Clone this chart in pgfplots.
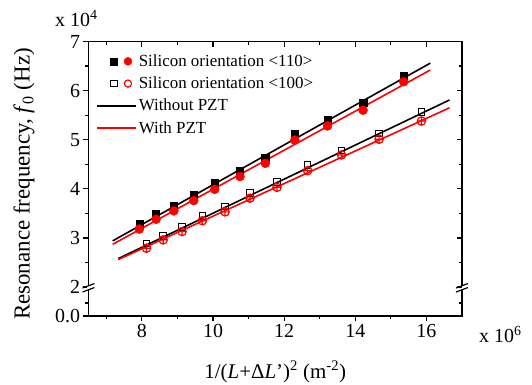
\documentclass[border=0pt]{standalone}
\usepackage{pgfplots}
\pgfplotsset{compat=1.18}
\usepackage{fontspec}
\setmainfont{Liberation Serif}
\begin{document}
\begin{tikzpicture}
\pgfplotsset{
  common/.style={
    scale only axis, width=373.5bp, height=274.5bp,
    xmin=6.5, xmax=17, ymin=1.41, ymax=7,
    xtick={8,10,12,14,16}, minor xtick={7,9,11,13,15},
    ytick={2,3,4,5,6,7}, minor ytick={1.674,2.5,3.5,4.5,5.5,6.5},
    major tick length=5bp, minor tick length=3bp,
    tick style={line width=1.2bp, black},
    /pgf/number format/assume math mode=true,
    ticklabel style={font=\fontsize{20}{22}\selectfont},
    clip=false,
  }
}
\begin{axis}[common, name=main,
  axis line style={line width=1.4bp},
  xtick pos=bottom, ytick pos=left, tick align=outside,
  extra y ticks={1.41}, extra y tick labels={0.0},
  extra y tick style={tick align=outside},
  xlabel={1/(\textit{L}+Δ\textit{L}')\textsuperscript{2} (m\textsuperscript{-2})},
  ylabel={Resonance frequency, \textit{f}\textsubscript{0} (Hz)},
  xlabel style={font=\fontsize{21}{24}\selectfont, at={(axis description cs:0.5,-0.204)}, anchor=center},
  ylabel style={font=\fontsize{23}{25}\selectfont, at={(axis description cs:-0.1727,0.481)}, anchor=center},
  legend style={at={(axis description cs:0.02,0.958)}, anchor=north west, draw=none, fill=none,
    inner sep=0pt, row sep=6bp, font=\fontsize{17}{19}\selectfont,
    nodes={inner ysep=1.5bp, inner xsep=2bp}},
  legend cell align=left,
]
% <110> without PZT
\addplot[only marks, mark=square*, mark size=3.6bp, black, forget plot] coordinates {
(7.93,3.28) (8.40,3.49) (8.90,3.66) (9.46,3.88) (10.05,4.12) (10.76,4.37)
(11.47,4.63) (12.30,5.12) (13.22,5.40) (14.22,5.76) (15.36,6.30)};
% <110> with PZT
\addplot[only marks, mark=*, mark size=4.5bp, red, forget plot] coordinates {
(7.93,3.18) (8.40,3.38) (8.90,3.55) (9.46,3.76) (10.05,3.99) (10.76,4.25)
(11.47,4.52) (12.30,4.99) (13.22,5.28) (14.22,5.60) (15.36,6.18)};
% <100> without PZT
\addplot[only marks, mark=square, mark size=3.3bp, black, mark options={line width=1bp}, forget plot] coordinates {
(8.13,2.89) (8.60,3.04) (9.13,3.22) (9.70,3.45) (10.34,3.64) (11.04,3.92)
(11.80,4.14) (12.66,4.49) (13.61,4.78) (14.67,5.13) (15.86,5.56)};
% <100> with PZT
\addplot[only marks, mark=oplus, mark size=4.2bp, red, mark options={line width=1.2bp}, forget plot] coordinates {
(8.13,2.79) (8.60,2.96) (9.13,3.13) (9.70,3.35) (10.34,3.53) (11.04,3.81)
(11.80,4.03) (12.66,4.37) (13.61,4.69) (14.67,5.01) (15.86,5.38)};
% fit lines
\addplot[black, line width=1.6bp, forget plot] coordinates {(7.18,2.94) (16.11,6.56)};
\addplot[red, line width=1.6bp, forget plot] coordinates {(7.18,2.87) (16.11,6.42)};
\addplot[black, line width=1.6bp, forget plot] coordinates {(7.34,2.58) (16.65,5.81)};
\addplot[red, line width=1.6bp, forget plot] coordinates {(7.34,2.56) (16.65,5.65)};
% legend
\addlegendimage{legend image code/.code={
  \path[draw=none, fill=none] (0bp,0bp) -- (39bp,0bp);
  \path[draw=black, fill=black] plot[mark=square*, mark size=3.6bp] coordinates {(17bp,0bp)};
  \path[draw=red, fill=red] plot[mark=*, mark size=4bp] coordinates {(31bp,0bp)};
}}
\addlegendentry{Silicon orientation <110>}
\addlegendimage{legend image code/.code={
  \path[draw=none, fill=none] (0bp,0bp) -- (39bp,0bp);
  \path[draw=black, fill=none, line width=1bp] plot[mark=square, mark size=3.3bp] coordinates {(17bp,0bp)};
  \path[draw=red, fill=none, line width=1.2bp] plot[mark=o, mark size=3.6bp] coordinates {(31bp,0bp)};
}}
\addlegendentry{Silicon orientation <100>}
\addlegendimage{legend image code/.code={\draw[black, line width=1.6bp] (0bp,0bp) -- (39bp,0bp);}}
\addlegendentry{Without PZT}
\addlegendimage{legend image code/.code={\draw[red, line width=1.6bp] (0bp,0bp) -- (39bp,0bp);}}
\addlegendentry{With PZT}
% axis break marks
\fill[white] ([shift={(-1.6bp,-2.4bp)}]axis cs:6.5,2) rectangle ([shift={(1.6bp,0.9bp)}]axis cs:6.5,2);
\draw[line width=1.2bp] ([shift={(-6bp,-1bp)}]axis cs:6.5,2) -- ([shift={(6bp,3.5bp)}]axis cs:6.5,2);
\draw[line width=1.2bp] ([shift={(-6bp,-5bp)}]axis cs:6.5,2) -- ([shift={(6bp,-0.5bp)}]axis cs:6.5,2);
\fill[white] ([shift={(-1.6bp,-2.4bp)}]axis cs:17,2) rectangle ([shift={(1.6bp,0.9bp)}]axis cs:17,2);
\draw[line width=1.2bp] ([shift={(-6bp,-1bp)}]axis cs:17,2) -- ([shift={(6bp,3.5bp)}]axis cs:17,2);
\draw[line width=1.2bp] ([shift={(-6bp,-5bp)}]axis cs:17,2) -- ([shift={(6bp,-0.5bp)}]axis cs:17,2);
% multipliers
\node[anchor=base west, font=\fontsize{20}{22}\selectfont, inner sep=0pt] at (axis description cs:-0.0897,1.054) {x 10\textsuperscript{4}};
\node[anchor=base west, font=\fontsize{20}{22}\selectfont, inner sep=0pt] at (axis description cs:1.0455,-0.098) {x 10\textsuperscript{6}};
\end{axis}
\begin{axis}[common,
  axis line style={draw=none},
  xtick pos=top, ytick pos=right, tick align=inside,
  xticklabels={}, yticklabels={},
]
\end{axis}
\pgfresetboundingbox
\path[use as bounding box] ([shift={(-88.5bp,-69bp)}]main.south west) rectangle ++(532bp,385bp);
\end{tikzpicture}
\end{document}
